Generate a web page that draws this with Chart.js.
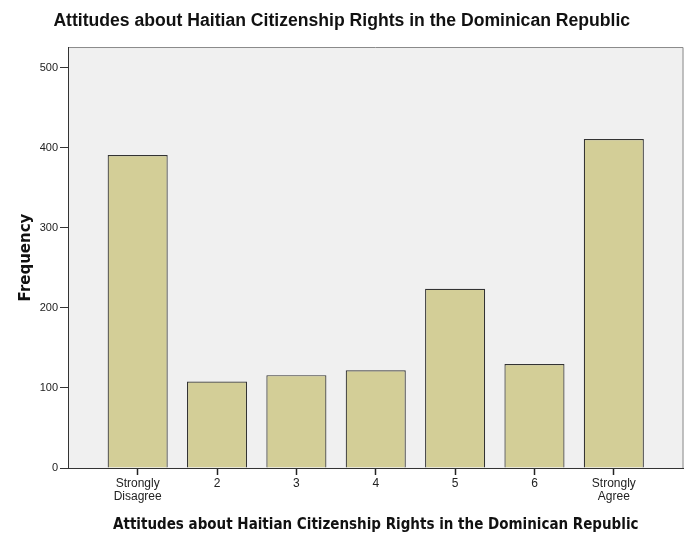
<!DOCTYPE html>
<html>
<head>
<meta charset="utf-8">
<script src="https://cdn.jsdelivr.net/npm/chart.js@4"></script>
<style>
  html, body { margin: 0; padding: 0; background: #fff; }
  #wrap { width: 686px; height: 536px; }
</style>
</head>
<body>
<div id="wrap"><canvas id="attitudesChart"></canvas></div>
<script>
// Data
const categories = [['Strongly', 'Disagree'], '2', '3', '4', '5', '6', ['Strongly', 'Agree']];
const frequencies = [391, 108, 116, 122, 224, 130, 411];
const yTicks = [0, 100, 200, 300, 400, 500];

const chartTitle = 'Attitudes about Haitian Citizenship Rights in the Dominican Republic';
const xTitle = 'Attitudes about Haitian Citizenship Rights in the Dominican Republic';
const yTitle = 'Frequency';

const positions = categories.map((c, i) => i + 1);

// grey plot background and the thin frame on top / right
const frame = {
    id: 'frame',
    beforeDraw(chart) {
        const { ctx, chartArea: a } = chart;
        ctx.save();
        ctx.fillStyle = '#f0f0f0';
        ctx.fillRect(a.left, a.top, a.right - a.left, a.bottom - a.top);
        ctx.strokeStyle = '#8a8a8a';
        ctx.lineWidth = 1;
        ctx.beginPath();
        ctx.moveTo(a.left, a.top + 0.5);
        ctx.lineTo(a.right - 0.5, a.top + 0.5);
        ctx.lineTo(a.right - 0.5, a.bottom);
        ctx.stroke();
        ctx.restore();
    }
};

new Chart(document.getElementById('attitudesChart'), {
    type: 'bar',
    data: {
        datasets: [{
            label: yTitle,
            data: positions.map((p, i) => ({ x: p, y: frequencies[i] })),
            backgroundColor: '#d3ce97',
            borderColor: '#333',
            borderWidth: 1.2,
            barPercentage: 0.757,
            categoryPercentage: 1
        }]
    },
    options: {
        responsive: true,
        maintainAspectRatio: false,
        animation: false,
        layout: { padding: { top: 0, right: 2.5, left: 0, bottom: 0 } },
        scales: {
            x: {
                type: 'linear',
                offset: false,
                min: 0.122,
                max: 7.878,
                afterBuildTicks: (scale) => { scale.ticks = positions.map(v => ({ value: v })); },
                afterFit: (scale) => { scale.height = 68; },
                ticks: {
                    autoSkip: false,
                    maxRotation: 0,
                    padding: 2,
                    color: '#222',
                    font: { family: '"Liberation Sans", Arial, sans-serif', size: 12, lineHeight: 1.1 },
                    callback: (value, index) => categories[index]
                },
                grid: {
                    offset: false,
                    drawOnChartArea: false,
                    drawTicks: true,
                    tickLength: 7,
                    tickWidth: 1.5,
                    tickColor: '#222'
                },
                border: { color: '#333' },
                title: {
                    display: true,
                    text: xTitle,
                    color: '#111',
                    font: { family: '"DejaVu Sans Condensed", sans-serif', size: 15, weight: 'bold' },
                    padding: { top: 0, bottom: 2 }
                }
            },
            y: {
                min: 0,
                max: 526,
                afterBuildTicks: (scale) => { scale.ticks = yTicks.map(v => ({ value: v })); },
                afterFit: (scale) => { scale.width = 68; },
                ticks: {
                    padding: 2,
                    color: '#222',
                    font: { family: '"Liberation Sans", Arial, sans-serif', size: 11 }
                },
                grid: { drawOnChartArea: false, tickLength: 8, tickColor: '#333' },
                border: { color: '#333' },
                title: {
                    display: true,
                    text: yTitle,
                    color: '#111',
                    font: { family: '"DejaVu Sans", sans-serif', size: 15, weight: 'bold' },
                    padding: { top: 17, bottom: 0 }
                }
            }
        },
        plugins: {
            legend: { display: false },
            tooltip: { enabled: false },
            title: {
                display: true,
                text: chartTitle,
                color: '#111',
                font: { family: '"Liberation Sans", Arial, sans-serif', size: 17.6, weight: 'bold', lineHeight: 1.2 },
                padding: { top: 10.5, bottom: 15.4 }
            }
        }
    },
    plugins: [frame]
});
</script>
</body>
</html>
